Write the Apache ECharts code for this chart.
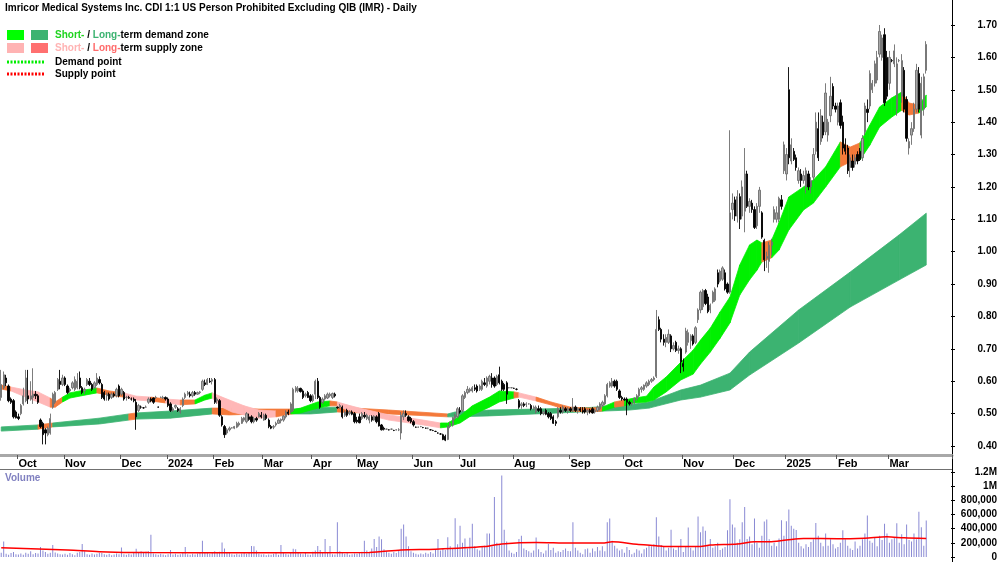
<!DOCTYPE html>
<html>
<head>
<meta charset="utf-8">
<script src="https://cdn.jsdelivr.net/npm/echarts@6/dist/echarts.min.js"></script>
<style>
  html, body { margin: 0; padding: 0; background: #fff; }
  #chart { width: 1000px; height: 562px; }
</style>
</head>
<body>
<div id="chart"></div>
<script>
// month labels under the price panel (first entry has no tick)
const monthNames = ['Sep', 'Oct', 'Nov', 'Dec', '2024', 'Feb', 'Mar', 'Apr', 'May', 'Jun', 'Jul', 'Aug', 'Sep', 'Oct', 'Nov', 'Dec', '2025', 'Feb', 'Mar'];

// daily bars [open, high, low, close], one array per month
const sep23 = [[0.55,0.635,0.54,0.59],[0.58,0.63,0.575,0.62],[0.61,0.62,0.585,0.595],[0.585,0.59,0.535,0.54],[0.545,0.55,0.53,0.535],[0.54,0.545,0.485,0.49],[0.505,0.51,0.485,0.487]];
const oct23 = [[0.49,0.50,0.48,0.485],[0.50,0.53,0.495,0.525],[0.53,0.58,0.525,0.555],[0.54,0.635,0.535,0.61],[0.555,0.635,0.53,0.545],[0.545,0.60,0.54,0.555],[0.55,0.64,0.53,0.56],[0.56,0.57,0.545,0.555],[0.555,0.56,0.53,0.535],[0.48,0.485,0.455,0.46],[0.47,0.475,0.405,0.435],[0.45,0.455,0.405,0.44],[0.435,0.46,0.43,0.455],[0.44,0.50,0.435,0.485],[0.52,0.565,0.515,0.56],[0.535,0.57,0.53,0.565],[0.575,0.61,0.57,0.605],[0.60,0.635,0.575,0.59],[0.59,0.62,0.585,0.61]];
const nov23 = [[0.61,0.615,0.585,0.59],[0.585,0.59,0.56,0.565],[0.57,0.58,0.565,0.575],[0.58,0.60,0.575,0.595],[0.575,0.615,0.57,0.605],[0.58,0.625,0.575,0.60],[0.61,0.63,0.575,0.58],[0.58,0.585,0.56,0.565],[0.57,0.58,0.56,0.575],[0.59,0.61,0.585,0.605],[0.60,0.61,0.585,0.59],[0.59,0.595,0.57,0.575],[0.58,0.60,0.575,0.595],[0.59,0.625,0.585,0.61],[0.605,0.615,0.59,0.595],[0.59,0.595,0.545,0.55],[0.565,0.57,0.54,0.545],[0.555,0.565,0.54,0.56],[0.56,0.565,0.54,0.545],[0.55,0.565,0.545,0.56],[0.56,0.565,0.55,0.555],[0.555,0.58,0.55,0.575],[0.585,0.59,0.55,0.555]];
const dec23 = [[0.56,0.58,0.555,0.575],[0.565,0.57,0.54,0.545],[0.55,0.555,0.54,0.55],[0.55,0.555,0.545,0.548],[0.545,0.55,0.54,0.545],[0.545,0.55,0.535,0.54],[0.535,0.545,0.45,0.49],[0.51,0.53,0.505,0.525],[0.52,0.525,0.515,0.52],[0.518,0.52,0.515,0.518],[0.52,0.525,0.518,0.52],[0.535,0.55,0.53,0.545],[0.545,0.55,0.535,0.54],[0.548,0.55,0.53,0.535],[0.55,0.555,0.545,0.55],[0.52,0.522,0.518,0.52],[0.55,0.553,0.548,0.55],[0.548,0.555,0.545,0.55],[0.55,0.553,0.54,0.545]];
const jan24 = [[0.545,0.55,0.52,0.525],[0.53,0.535,0.505,0.51],[0.51,0.52,0.505,0.515],[0.52,0.528,0.515,0.525],[0.515,0.52,0.505,0.51],[0.505,0.52,0.50,0.515],[0.525,0.55,0.52,0.545],[0.55,0.565,0.545,0.56],[0.56,0.57,0.555,0.565],[0.56,0.568,0.55,0.555],[0.555,0.57,0.55,0.565],[0.565,0.57,0.555,0.56],[0.56,0.568,0.558,0.565],[0.565,0.57,0.56,0.567],[0.575,0.605,0.57,0.60],[0.595,0.605,0.585,0.59],[0.59,0.61,0.588,0.605],[0.60,0.61,0.595,0.598],[0.60,0.61,0.59,0.605]];
const feb24 = [[0.605,0.61,0.53,0.535],[0.54,0.55,0.53,0.545],[0.54,0.545,0.49,0.495],[0.49,0.495,0.46,0.465],[0.46,0.465,0.425,0.435],[0.44,0.455,0.435,0.45],[0.45,0.46,0.445,0.455],[0.456,0.458,0.454,0.456],[0.455,0.462,0.452,0.46],[0.458,0.475,0.455,0.47],[0.465,0.475,0.46,0.47],[0.47,0.49,0.468,0.485],[0.48,0.49,0.475,0.487],[0.475,0.505,0.47,0.50],[0.49,0.50,0.478,0.482],[0.49,0.495,0.47,0.475],[0.475,0.49,0.47,0.485],[0.485,0.49,0.475,0.48],[0.49,0.505,0.488,0.50],[0.495,0.505,0.485,0.49]];
const mar24 = [[0.48,0.50,0.478,0.495],[0.495,0.50,0.48,0.485],[0.48,0.485,0.455,0.46],[0.46,0.465,0.452,0.455],[0.458,0.465,0.452,0.46],[0.465,0.475,0.46,0.47],[0.47,0.485,0.468,0.48],[0.478,0.485,0.47,0.482],[0.48,0.495,0.475,0.492],[0.49,0.51,0.485,0.505],[0.505,0.512,0.495,0.50],[0.505,0.535,0.50,0.53],[0.51,0.58,0.505,0.575],[0.57,0.585,0.565,0.58],[0.57,0.585,0.565,0.578],[0.578,0.58,0.565,0.568],[0.57,0.575,0.545,0.55],[0.555,0.565,0.55,0.56],[0.565,0.57,0.548,0.55],[0.555,0.56,0.535,0.54]];
const apr24 = [[0.54,0.56,0.535,0.555],[0.56,0.605,0.545,0.60],[0.60,0.61,0.545,0.55],[0.55,0.555,0.515,0.52],[0.535,0.55,0.53,0.545],[0.545,0.56,0.54,0.555],[0.548,0.565,0.545,0.56],[0.555,0.565,0.55,0.56],[0.55,0.565,0.545,0.562],[0.56,0.565,0.55,0.555],[0.52,0.522,0.515,0.518],[0.52,0.53,0.515,0.525],[0.52,0.525,0.485,0.49],[0.495,0.51,0.49,0.505],[0.51,0.515,0.49,0.495],[0.50,0.51,0.495,0.505],[0.505,0.51,0.495,0.498],[0.50,0.505,0.47,0.475]];
const may24 = [[0.48,0.49,0.47,0.475],[0.49,0.50,0.47,0.472],[0.485,0.505,0.48,0.50],[0.495,0.505,0.485,0.49],[0.485,0.50,0.48,0.495],[0.48,0.495,0.47,0.49],[0.49,0.495,0.475,0.48],[0.48,0.495,0.478,0.492],[0.49,0.495,0.47,0.475],[0.50,0.505,0.46,0.462],[0.465,0.468,0.448,0.45],[0.455,0.46,0.448,0.452],[0.452,0.454,0.45,0.452],[0.45,0.452,0.448,0.45],[0.452,0.454,0.45,0.452],[0.448,0.45,0.446,0.448],[0.45,0.452,0.448,0.45],[0.45,0.455,0.446,0.45],[0.44,0.505,0.42,0.495],[0.49,0.51,0.48,0.50],[0.50,0.51,0.49,0.495],[0.49,0.495,0.475,0.478],[0.485,0.49,0.47,0.475]];
const jun24 = [[0.475,0.48,0.46,0.465],[0.458,0.46,0.456,0.458],[0.458,0.46,0.456,0.458],[0.46,0.462,0.458,0.46],[0.457,0.459,0.455,0.457],[0.455,0.457,0.453,0.455],[0.455,0.457,0.452,0.455],[0.45,0.452,0.448,0.45],[0.448,0.45,0.446,0.448],[0.445,0.447,0.443,0.445],[0.44,0.442,0.438,0.44],[0.437,0.44,0.435,0.437],[0.435,0.438,0.418,0.42],[0.43,0.435,0.415,0.418],[0.42,0.465,0.418,0.46],[0.46,0.475,0.455,0.47],[0.465,0.49,0.46,0.488],[0.485,0.50,0.48,0.495],[0.49,0.52,0.485,0.515]];
const jul24 = [[0.51,0.52,0.50,0.505],[0.51,0.56,0.505,0.555],[0.55,0.57,0.545,0.565],[0.565,0.585,0.56,0.575],[0.57,0.58,0.565,0.575],[0.57,0.585,0.565,0.58],[0.58,0.59,0.57,0.575],[0.585,0.59,0.565,0.57],[0.575,0.59,0.57,0.585],[0.575,0.605,0.57,0.60],[0.595,0.61,0.585,0.59],[0.585,0.615,0.58,0.61],[0.60,0.62,0.59,0.615],[0.61,0.625,0.58,0.59],[0.61,0.615,0.58,0.585],[0.59,0.62,0.585,0.615],[0.62,0.645,0.59,0.595],[0.60,0.605,0.57,0.575],[0.59,0.595,0.57,0.575],[0.595,0.60,0.53,0.56],[0.58,0.582,0.578,0.58],[0.58,0.582,0.578,0.58]];
const aug24 = [[0.578,0.58,0.576,0.578],[0.575,0.578,0.572,0.575],[0.54,0.545,0.515,0.52],[0.525,0.535,0.515,0.53],[0.53,0.535,0.52,0.525],[0.528,0.535,0.52,0.53],[0.53,0.532,0.528,0.53],[0.525,0.53,0.51,0.515],[0.515,0.525,0.51,0.52],[0.505,0.525,0.50,0.52],[0.515,0.525,0.505,0.51],[0.515,0.52,0.495,0.50],[0.50,0.51,0.495,0.505],[0.51,0.515,0.495,0.498],[0.50,0.505,0.485,0.49],[0.50,0.505,0.48,0.485],[0.49,0.495,0.468,0.47],[0.475,0.48,0.462,0.47],[0.49,0.52,0.485,0.515],[0.51,0.52,0.50,0.505],[0.505,0.525,0.50,0.52],[0.515,0.52,0.505,0.51],[0.51,0.52,0.50,0.515]];
const sep24 = [[0.515,0.52,0.505,0.51],[0.51,0.548,0.505,0.52],[0.52,0.525,0.505,0.51],[0.51,0.52,0.50,0.515],[0.515,0.52,0.505,0.51],[0.51,0.52,0.50,0.505],[0.515,0.52,0.50,0.505],[0.505,0.515,0.495,0.51],[0.51,0.515,0.50,0.505],[0.515,0.52,0.50,0.502],[0.505,0.515,0.50,0.51],[0.51,0.525,0.505,0.52],[0.515,0.535,0.51,0.53],[0.525,0.54,0.52,0.535],[0.53,0.56,0.525,0.555],[0.555,0.595,0.55,0.59],[0.585,0.60,0.58,0.595],[0.585,0.61,0.58,0.60],[0.60,0.605,0.58,0.585],[0.60,0.605,0.57,0.575],[0.57,0.575,0.545,0.55],[0.55,0.555,0.54,0.545]];
const oct24 = [[0.545,0.55,0.54,0.542],[0.545,0.55,0.495,0.535],[0.535,0.54,0.525,0.53],[0.53,0.535,0.525,0.532],[0.535,0.55,0.53,0.548],[0.545,0.56,0.54,0.555],[0.555,0.58,0.55,0.575],[0.575,0.585,0.565,0.58],[0.575,0.59,0.57,0.588],[0.585,0.60,0.58,0.595],[0.59,0.605,0.585,0.60],[0.60,0.61,0.595,0.605],[0.605,0.615,0.60,0.61],[0.615,0.82,0.61,0.76],[0.79,0.80,0.755,0.76],[0.76,0.765,0.72,0.73],[0.73,0.745,0.71,0.72],[0.72,0.745,0.705,0.735],[0.72,0.76,0.715,0.745],[0.74,0.745,0.69,0.70],[0.70,0.72,0.695,0.71],[0.72,0.725,0.69,0.695],[0.695,0.71,0.685,0.70],[0.70,0.705,0.625,0.66]];
const nov24 = [[0.655,0.67,0.63,0.645],[0.69,0.765,0.685,0.755],[0.72,0.76,0.71,0.75],[0.725,0.745,0.70,0.74],[0.74,0.745,0.71,0.715],[0.72,0.77,0.715,0.765],[0.79,0.825,0.78,0.82],[0.82,0.88,0.81,0.875],[0.83,0.885,0.82,0.88],[0.88,0.885,0.835,0.84],[0.86,0.87,0.81,0.815],[0.82,0.84,0.81,0.835],[0.845,0.88,0.84,0.875],[0.85,0.89,0.845,0.885],[0.935,0.945,0.89,0.90],[0.91,0.945,0.905,0.94],[0.915,0.955,0.91,0.95],[0.935,0.945,0.88,0.885],[0.90,0.905,0.87,0.875],[0.875,1.375,0.87,1.12],[1.13,1.18,1.10,1.15]];
const dec24 = [[1.16,1.17,1.095,1.11],[1.11,1.19,1.09,1.17],[1.17,1.18,1.07,1.10],[1.11,1.22,1.10,1.20],[1.125,1.32,1.06,1.24],[1.24,1.25,1.135,1.14],[1.14,1.165,1.12,1.155],[1.15,1.16,1.12,1.13],[1.13,1.14,1.07,1.075],[1.08,1.15,1.07,1.14],[1.14,1.20,1.12,1.19],[1.12,1.125,1.04,1.045],[1.035,1.04,0.94,0.975],[0.98,1.00,0.95,0.985],[0.97,1.03,0.935,1.02],[1.02,1.04,0.99,1.03],[1.10,1.14,1.09,1.13],[1.10,1.14,1.09,1.12],[1.10,1.17,1.09,1.165],[1.16,1.175,1.13,1.14],[1.25,1.34,1.24,1.33]];
const jan25 = [[1.24,1.32,1.22,1.30],[1.50,1.57,1.27,1.29],[1.28,1.35,1.27,1.33],[1.31,1.32,1.28,1.285],[1.29,1.30,1.25,1.26],[1.22,1.26,1.21,1.25],[1.24,1.255,1.20,1.22],[1.22,1.25,1.21,1.235],[1.20,1.26,1.18,1.25],[1.24,1.25,1.19,1.20],[1.20,1.23,1.18,1.22],[1.23,1.32,1.22,1.30],[1.31,1.43,1.30,1.40],[1.38,1.43,1.28,1.29],[1.34,1.44,1.33,1.42],[1.40,1.42,1.35,1.36],[1.37,1.52,1.36,1.49],[1.36,1.41,1.34,1.40],[1.42,1.54,1.40,1.48],[1.51,1.52,1.44,1.45],[1.45,1.46,1.43,1.44]];
const feb25 = [[1.40,1.46,1.39,1.45],[1.46,1.47,1.38,1.39],[1.40,1.42,1.30,1.32],[1.33,1.35,1.30,1.31],[1.32,1.33,1.24,1.25],[1.26,1.30,1.23,1.29],[1.28,1.30,1.25,1.26],[1.27,1.30,1.26,1.29],[1.30,1.31,1.27,1.28],[1.31,1.32,1.28,1.285],[1.29,1.36,1.28,1.35],[1.37,1.46,1.36,1.45],[1.44,1.47,1.40,1.43],[1.45,1.56,1.44,1.55],[1.50,1.53,1.49,1.52],[1.52,1.59,1.51,1.58],[1.53,1.62,1.52,1.60],[1.61,1.70,1.60,1.68],[1.60,1.67,1.59,1.66],[1.67,1.69,1.45,1.46],[1.60,1.62,1.47,1.48]];
const mar25 = [[1.52,1.62,1.50,1.60],[1.59,1.595,1.585,1.59],[1.58,1.64,1.57,1.62],[1.44,1.60,1.42,1.58],[1.59,1.595,1.585,1.59],[1.48,1.61,1.46,1.59],[1.56,1.57,1.43,1.44],[1.47,1.48,1.34,1.35],[1.32,1.35,1.30,1.34],[1.36,1.40,1.33,1.38],[1.38,1.46,1.37,1.44],[1.44,1.58,1.43,1.56],[1.55,1.57,1.43,1.44],[1.36,1.54,1.35,1.52],[1.44,1.55,1.42,1.54],[1.56,1.65,1.55,1.64]];

// daily volume, thousands of shares
const volSep23 = [60,218,45,30,55,70,40];
const volOct23 = [35,50,30,60,45,80,40,55,50,140,90,70,45,60,170,65,50,40,35];
const volNov23 = [45,30,55,40,25,60,70,185,80,40,30,50,35,45,60,55,40,30,45,25,35,50,40];
const volDec23 = [133,40,30,45,35,60,115,70,80,65,75,80,315,50,40,30,45,35,25];
const volJan24 = [40,100,35,45,30,40,55,140,40,30,45,35,50,60,230,70,55,45,60];
const volFeb24 = [80,60,75,205,120,70,55,40,30,45,35,50,60,45,70,155,150,90,45,35];
const volMar24 = [40,25,35,30,45,55,30,170,60,45,35,70,115,110,60,50,40,55,35,30];
const volApr24 = [75,90,155,100,60,255,70,155,40,35,490,80,60,45,55,30,40,50];
const volMay24 = [45,60,75,230,90,70,120,255,140,290,250,110,80,60,45,70,55,90,400,460,290,150,80];
const volJun24 = [60,45,35,50,40,60,45,70,50,110,255,90,120,100,280,150,120,547,180];
const volJul24 = [440,200,260,120,270,470,150,110,90,140,160,330,330,150,848,200,180,1150,385,220,90,60];
const volAug24 = [45,70,255,300,120,100,80,60,90,275,110,70,50,90,185,100,130,60,80,70,100,120,85];
const volSep24 = [80,490,130,90,60,40,110,120,60,120,80,140,90,150,80,490,543,230,160,120,90,110];
const volOct24 = [60,140,100,40,60,110,90,50,110,130,160,150,180,562,290,170,140,90,130,385,120,100,150,255];
const volNov24 = [70,150,415,130,90,150,570,350,430,370,160,255,130,150,200,100,120,140,376,814,457];
const volDec24 = [415,200,250,490,705,255,290,180,543,200,130,300,500,530,250,160,200,150,260,520,300];
const volJan25 = [505,670,440,400,380,200,150,120,180,140,210,250,480,300,200,150,330,160,250,180,120];
const volFeb25 = [140,200,376,250,160,120,100,220,120,160,250,330,585,230,200,280,150,300,240,470,330];
const volMar25 = [200,250,280,475,200,320,180,457,240,220,330,250,640,420,160,515];

// volume moving average (red line): bar index, thousands
const volAvgIdx = [0, 27, 40, 60, 100, 150, 163, 177, 197, 204, 218, 232, 245, 249, 259, 267, 270, 285, 289, 300, 307, 313, 320, 327, 341, 352, 361, 368, 377];
const volAvg    = [130, 100, 75, 62, 60, 65, 100, 110, 147, 185, 205, 196, 196, 215, 180, 160, 148, 148, 170, 185, 215, 215, 240, 262, 257, 266, 285, 270, 262];

// short-term zone edges (bar index, upper, lower); colour of the stretch after each point
// g = demand, p = supply, o = orange
const stIdx = [0,4,10,15,20,22,25,28,34,39,44,50,55,61,67,73,79,83,86,90,94,99,105,112,118,122,129,134,137,141,146,158,172,179,182,187,192,199,203,209,211,218,224,232,240,245,250,254,258,263,266,271,277,282,285,289,293,297,301,305,308,310,314,317,321,327,331,336,342,346,350,354,358,363,367,370,374,377];
const stTop = [0.588,0.582,0.573,0.567,0.548,0.536,0.551,0.564,0.573,0.579,0.570,0.564,0.554,0.551,0.545,0.542,0.542,0.557,0.564,0.551,0.539,0.524,0.511,0.508,0.511,0.517,0.536,0.539,0.536,0.527,0.517,0.496,0.480,0.471,0.471,0.493,0.524,0.551,0.570,0.567,0.564,0.551,0.536,0.520,0.517,0.520,0.536,0.542,0.548,0.554,0.582,0.613,0.659,0.696,0.727,0.764,0.814,0.860,0.959,1.021,1.036,1.027,1.036,1.089,1.169,1.200,1.221,1.262,1.339,1.323,1.336,1.391,1.447,1.475,1.493,1.459,1.453,1.484];
const stBot = [0.576,0.570,0.551,0.536,0.520,0.520,0.536,0.548,0.557,0.564,0.557,0.551,0.542,0.539,0.533,0.527,0.530,0.542,0.548,0.520,0.505,0.496,0.486,0.490,0.499,0.502,0.517,0.524,0.524,0.511,0.502,0.480,0.465,0.456,0.459,0.471,0.496,0.520,0.536,0.548,0.551,0.539,0.527,0.508,0.505,0.508,0.520,0.524,0.533,0.536,0.542,0.567,0.604,0.622,0.653,0.690,0.733,0.780,0.866,0.913,0.943,0.968,0.981,1.005,1.067,1.129,1.150,1.200,1.262,1.277,1.283,1.329,1.385,1.416,1.437,1.422,1.428,1.447];
const stCol = 'opppoogggo' + 'oppopoggpp' + 'pppogggopp' + 'pppggggggo' + 'poooogoggg' + 'gggggggggg' + 'goggggggoo' + 'ggggoogg';

// long-term zone edges (g = demand, o = supply)
const ltIdx = [0,15,21,40,52,55,69,86,93,105,119,126,137,158,182,185,199,236,256,264,277,285,297,305,325,346,366,377];
const ltTop = [0.459,0.465,0.471,0.486,0.499,0.502,0.508,0.517,0.517,0.514,0.514,0.517,0.520,0.511,0.499,0.505,0.511,0.517,0.527,0.536,0.573,0.588,0.625,0.690,0.820,0.937,1.052,1.119];
const ltBot = [0.446,0.452,0.459,0.468,0.480,0.483,0.486,0.499,0.496,0.499,0.499,0.499,0.505,0.499,0.490,0.490,0.493,0.505,0.511,0.517,0.542,0.551,0.573,0.619,0.718,0.829,0.913,0.959];
const ltCol = 'goggoggooo' + 'ggoogggggg' + 'gggggggg';

const priceMin = 0.4, priceMax = 1.7, priceStep = 0.1;
const volTicks = [0, 200000, 400000, 600000, 800000, 1000000, 1200000];
const volTickText = ['0', '200,000', '400,000', '600,000', '800,000', '1M', '1.2M'];

const title = 'Imricor Medical Systems Inc. CDI 1:1 US Person Prohibited Excluding QIB (IMR) - Daily';

const FONT = '"Liberation Sans", Arial, sans-serif';
const zoneColor = { g: '#00f000', p: '#ffb7b7', o: '#f4793a', d: '#3cb371' };

const months = [sep23, oct23, nov23, dec23, jan24, feb24, mar24, apr24, may24, jun24, jul24, aug24, sep24, oct24, nov24, dec24, jan25, feb25, mar25];
const volMonths = [volSep23, volOct23, volNov23, volDec23, volJan24, volFeb24, volMar24, volApr24, volMay24, volJun24, volJul24, volAug24, volSep24, volOct24, volNov24, volDec24, volJan25, volFeb25, volMar25];

const bars = [].concat(...months);
const volume = [].concat(...volMonths).map(v => v * 1000);
const slots = bars.length + 10;          // empty room right of the last bar
const categories = [];
for (let i = 0; i < slots; i++) categories.push(String(i));

const monthAt = {};
let pos = 0;
months.forEach((m, i) => {
  if (i > 0) monthAt[pos] = monthNames[i];
  pos += m.length;
});

function zone(idx, top, bot, cols, longTerm) {
  const data = [];
  for (let j = 0; j < idx.length - 1; j++) {
    data.push([idx[j], top[j], bot[j], idx[j + 1], top[j + 1], bot[j + 1]]);
  }
  return {
    type: 'custom',
    xAxisIndex: 2,
    yAxisIndex: 0,
    z: longTerm ? 1 : 2,
    silent: true,
    encode: { x: [0, 3], y: [1, 2, 4, 5] },
    renderItem: function (params, api) {
      const a = api.coord([api.value(0), api.value(1)]);
      const b = api.coord([api.value(3), api.value(4)]);
      const c = api.coord([api.value(3), api.value(5)]);
      const d = api.coord([api.value(0), api.value(2)]);
      let key = cols[params.dataIndex];
      if (longTerm && key === 'g') key = 'd';
      const col = zoneColor[key];
      return {
        type: 'polygon',
        shape: { points: [a, b, c, d] },
        style: { fill: col, stroke: col, lineWidth: 0.8 }
      };
    },
    data: data
  };
}

const chart = echarts.init(document.getElementById('chart'), null, { renderer: 'canvas' });

const tickLabel = { fontFamily: FONT, fontWeight: 'bold', fontSize: 10, color: '#000' };
const hiddenX = (g) => ({ type: 'value', gridIndex: g, min: 0, max: 1, show: false });

chart.setOption({
  animation: false,
  backgroundColor: '#fff',
  grid: [
    { left: 0, right: 48, top: 0, height: 455 },      // price panel
    { left: 0, right: 48, top: 470, height: 87 },     // volume panel
    { left: 0, right: 48, top: 25, height: 421 },     // price tick labels 0.40 .. 1.70
    { left: 0, right: 48, top: 472, height: 85 }      // volume tick labels 0 .. 1.2M
  ],
  xAxis: [
    {
      type: 'category', gridIndex: 0, data: categories, boundaryGap: true,
      axisLine: { onZero: false, lineStyle: { color: '#a8a8a8', width: 3 } },
      axisTick: { show: true, length: 4, interval: i => monthAt[i] !== undefined, lineStyle: { color: '#555' } },
      axisLabel: {
        interval: i => monthAt[i] !== undefined,
        formatter: (v, i) => monthAt[i] || '',
        align: 'left', margin: 3,
        fontFamily: FONT, fontWeight: 'bold', fontSize: 11, color: '#000'
      },
      splitLine: { show: false }
    },
    {
      type: 'category', gridIndex: 1, data: categories, boundaryGap: true,
      axisLine: { show: false, onZero: false }, axisTick: { show: false }, axisLabel: { show: false }
    },
    { type: 'value', gridIndex: 0, min: -0.5, max: slots - 0.5, show: false },
    { type: 'value', gridIndex: 1, min: -0.5, max: slots - 0.5, show: false },
    hiddenX(2),
    hiddenX(3)
  ],
  yAxis: [
    {
      type: 'value', gridIndex: 0, position: 'right',
      min: priceMin - 9 / 323.85, max: priceMin + 446 / 323.85,
      axisLine: { show: true, onZero: false, lineStyle: { color: '#000' } },
      axisTick: { show: false }, axisLabel: { show: false }, splitLine: { show: false }
    },
    {
      type: 'value', gridIndex: 1, position: 'right',
      min: 0, max: 1228000,
      axisLine: { show: true, onZero: false, lineStyle: { color: '#000' } },
      axisTick: { show: false }, axisLabel: { show: false }, splitLine: { show: false }
    },
    {
      type: 'value', gridIndex: 2, position: 'right',
      min: priceMin, max: priceMax, interval: priceStep,
      axisLine: { show: false, onZero: false },
      axisTick: { show: true, length: 4, lineStyle: { color: '#000' } },
      axisLabel: Object.assign({ formatter: v => v.toFixed(2), align: 'right', margin: 46 }, tickLabel),
      splitLine: { show: false }
    },
    {
      type: 'value', gridIndex: 3, position: 'right',
      min: 0, max: 1200000, interval: 200000,
      axisLine: { show: false, onZero: false },
      axisTick: { show: true, length: 4, lineStyle: { color: '#000' } },
      axisLabel: Object.assign({
        formatter: v => volTickText[volTicks.indexOf(Math.round(v))] || '',
        align: 'right', margin: 46
      }, tickLabel),
      splitLine: { show: false }
    }
  ],
  series: [
    zone(ltIdx, ltTop, ltBot, ltCol, true),
    zone(stIdx, stTop, stBot, stCol, false),
    {
      type: 'candlestick',
      xAxisIndex: 0, yAxisIndex: 0, z: 5,
      barWidth: 1.8,
      data: bars.map(b => [b[0], b[3], b[2], b[1]]),
      itemStyle: {
        color: '#a8a8a8', borderColor: '#6e6e6e',
        color0: '#000', borderColor0: '#000',
        borderWidth: 0.9
      }
    },
    {
      type: 'bar',
      xAxisIndex: 1, yAxisIndex: 1,
      barWidth: 1,
      data: volume,
      itemStyle: { color: '#8a8ad4' }
    },
    {
      type: 'line',
      xAxisIndex: 3, yAxisIndex: 1, z: 6,
      data: volAvgIdx.map((x, j) => [x, volAvg[j] * 1000]),
      smooth: 0.3, showSymbol: false,
      lineStyle: { color: '#ff0000', width: 1.5 }
    }
  ],
  graphic: [
    { type: 'text', x: 5, y: 8, style: { text: title, font: 'bold 10px ' + FONT, fill: '#000', verticalAlign: 'middle' } },
    { type: 'rect', shape: { x: 7, y: 30, width: 17, height: 10 }, style: { fill: '#00ff00' } },
    { type: 'rect', shape: { x: 31, y: 30, width: 17, height: 10 }, style: { fill: '#3cb371' } },
    { type: 'rect', shape: { x: 7, y: 43, width: 17, height: 10 }, style: { fill: '#ffb3b3' } },
    { type: 'rect', shape: { x: 31, y: 43, width: 17, height: 10 }, style: { fill: '#ff7070' } },
    { type: 'line', shape: { x1: 7, y1: 62, x2: 45, y2: 62 }, style: { stroke: '#00ee00', lineWidth: 3, lineDash: [2, 1.5] } },
    { type: 'line', shape: { x1: 7, y1: 74, x2: 45, y2: 74 }, style: { stroke: '#ff0000', lineWidth: 3, lineDash: [2, 1.5] } },
    {
      type: 'text', x: 55, y: 35,
      style: {
        text: '{a|Short-}{b| / }{c|Long-}{b|term demand zone}', verticalAlign: 'middle',
        font: 'bold 10px ' + FONT,
        rich: {
          a: { fill: '#1fd41f', font: 'bold 10px ' + FONT },
          b: { fill: '#000', font: 'bold 10px ' + FONT },
          c: { fill: '#3cb371', font: 'bold 10px ' + FONT }
        }
      }
    },
    {
      type: 'text', x: 55, y: 48,
      style: {
        text: '{a|Short-}{b| / }{c|Long-}{b|term supply zone}', verticalAlign: 'middle',
        font: 'bold 10px ' + FONT,
        rich: {
          a: { fill: '#ffb3b3', font: 'bold 10px ' + FONT },
          b: { fill: '#000', font: 'bold 10px ' + FONT },
          c: { fill: '#ff6b6b', font: 'bold 10px ' + FONT }
        }
      }
    },
    { type: 'text', x: 55, y: 62, style: { text: 'Demand point', font: 'bold 10px ' + FONT, fill: '#000', verticalAlign: 'middle' } },
    { type: 'text', x: 55, y: 74, style: { text: 'Supply point', font: 'bold 10px ' + FONT, fill: '#000', verticalAlign: 'middle' } },
    { type: 'text', x: 5, y: 478, style: { text: 'Volume', font: 'bold 10px ' + FONT, fill: '#8080c0', verticalAlign: 'middle' } },
    { type: 'line', shape: { x1: 0, y1: 469.5, x2: 952, y2: 469.5 }, style: { stroke: '#707070', lineWidth: 1 } },
    { type: 'line', shape: { x1: 952.5, y1: 455, x2: 952.5, y2: 470 }, style: { stroke: '#000', lineWidth: 1 } },
    { type: 'line', shape: { x1: 952.5, y1: 557, x2: 952.5, y2: 562 }, style: { stroke: '#000', lineWidth: 1 } }
  ]
});
</script>
</body>
</html>
